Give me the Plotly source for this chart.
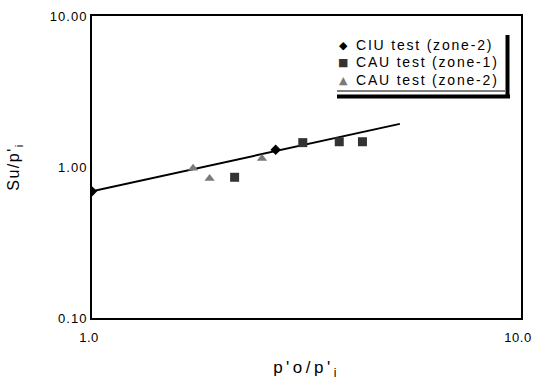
import plotly.graph_objects as go

# data
ciu_x = [1.0, 2.68]
ciu_y = [0.69, 1.30]
cau1_x = [2.15, 3.10, 3.77, 4.27]
cau1_y = [0.855, 1.45, 1.47, 1.47]
cau2_x = [1.72, 1.88, 2.49]
cau2_y = [0.98, 0.84, 1.14]
fit_x = [1.0, 5.22]
fit_y = [0.69, 1.93]
x_ticks = [1, 10]
x_ticktext = ["1.0", "10.0"]
y_ticks = [0.1, 1, 10]
y_ticktext = ["0.10", "1.00", "10.00"]
series_names = ["CIU test (zone-2)", "CAU test (zone-1)", "CAU test (zone-2)"]
series_glyphs = ["◆", "■", "▲"]
series_colors = ["#000000", "#333333", "#7a7a7a"]

FONT = "Arial, Liberation Sans, sans-serif"

def spaced(t, ls):
    return '<span style="letter-spacing:%spx">%s</span>' % (ls, t)

fig = go.Figure()
fig.add_trace(go.Scatter(x=fit_x, y=fit_y, mode="lines", line=dict(color="black", width=2),
                         showlegend=False, hoverinfo="skip"))
fig.add_trace(go.Scatter(x=ciu_x, y=ciu_y, mode="markers", name=series_names[0],
                         marker=dict(symbol="diamond", size=8, color=series_colors[0])))
fig.add_trace(go.Scatter(x=cau1_x, y=cau1_y, mode="markers", name=series_names[1],
                         marker=dict(symbol="square", size=9, color=series_colors[1])))
fig.add_trace(go.Scatter(x=cau2_x, y=cau2_y, mode="markers", name=series_names[2],
                         marker=dict(symbol="triangle-up", size=9, color=series_colors[2])))

W, H = 533, 380
L, R, T, B = 92, 521, 16, 318
def px(x):
    return (x - L) / (R - L)
def py(y):
    return (B - y) / (B - T)

shapes = [
    dict(type="line", xref="paper", yref="paper", x0=px(337), x1=px(505), y0=py(91), y1=py(91),
         line=dict(color="black", width=1)),
    dict(type="line", xref="paper", yref="paper", x0=px(337), x1=px(510), y0=py(96.5), y1=py(96.5),
         line=dict(color="black", width=4)),
    dict(type="line", xref="paper", yref="paper", x0=px(507.5), x1=px(507.5), y0=py(35), y1=py(98),
         line=dict(color="black", width=4)),
]

annotations = []
row_y = [45, 62.5, 80]
for name, glyph, col, yy in zip(series_names, series_glyphs, series_colors, row_y):
    annotations.append(dict(xref="paper", yref="paper", x=px(343), y=py(yy), text=glyph,
                            showarrow=False, xanchor="center", yanchor="middle",
                            font=dict(family="DejaVu Sans", size=11, color=col)))
    annotations.append(dict(xref="paper", yref="paper", x=px(354), y=py(yy), text=spaced(name, 1.8),
                            showarrow=False, xanchor="left", yanchor="middle",
                            font=dict(family=FONT, size=14, color="black")))

fig.update_layout(
    width=W, height=H,
    margin=dict(l=L, r=W - R, t=T, b=H - B),
    paper_bgcolor="white", plot_bgcolor="white",
    font=dict(family=FONT, color="black", size=13),
    shapes=shapes,
    annotations=annotations,
    showlegend=False,
    xaxis=dict(type="log", range=[0, 1], tickvals=x_ticks,
               ticktext=[spaced(t, 0.5) for t in x_ticktext],
               showgrid=False, zeroline=False, showline=True, linecolor="black", linewidth=2,
               mirror=True, ticks="", tickfont=dict(size=13), ticklabelstandoff=6,
               ticklabelshift=-3, ticklabeloverflow="allow", automargin=False,
               title=dict(text=spaced("p'o/p'<sub>i</sub>", 3.5), font=dict(size=17), standoff=24)),
    yaxis=dict(type="log", range=[-1, 1], tickvals=y_ticks,
               ticktext=[spaced(t, 1) for t in y_ticktext],
               showgrid=False, zeroline=False, showline=True, linecolor="black", linewidth=2,
               mirror=True, ticks="", tickfont=dict(size=13), automargin=False,
               title=dict(text=spaced("Su/p'<sub>i</sub>", 1.5), font=dict(size=16), standoff=26)),
)

fig.write_html("out.html")
